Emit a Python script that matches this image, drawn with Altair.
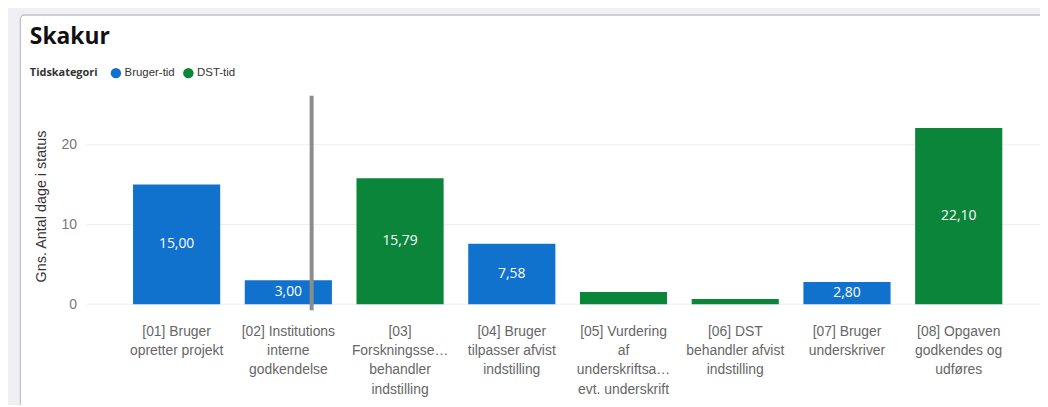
import altair as alt
import pandas as pd

# ---- data ----
categories = [
    "[01] Bruger|opretter projekt",
    "[02] Institutions|interne|godkendelse",
    "[03]|Forskningsse…|behandler|indstilling",
    "[04] Bruger|tilpasser afvist|indstilling",
    "[05] Vurdering|af|underskriftsa…|evt. underskrift",
    "[06] DST|behandler afvist|indstilling",
    "[07] Bruger|underskriver",
    "[08] Opgaven|godkendes og|udføres",
]
values = [15.00, 3.00, 15.79, 7.58, 1.53, 0.66, 2.80, 22.10]
kinds = ["Bruger-tid", "Bruger-tid", "DST-tid", "Bruger-tid",
         "DST-tid", "DST-tid", "Bruger-tid", "DST-tid"]
show_label = [True, True, True, True, False, False, True, True]
legend_names = ["Bruger-tid", "DST-tid"]
legend_colors = ["#1172cd", "#0b8539"]
y_ticks = [0, 10, 20]

df = pd.DataFrame({
    "kategori": categories,
    "vaerdi": values,
    "type": kinds,
    "label": [f"{v:.2f}".replace(".", ",") if s else "" for v, s in zip(values, show_label)],
})
grid_df = pd.DataFrame({"t": y_ticks})

y_scale = alt.Scale(domain=[0, 26], nice=False)

# white report card behind the visual
card = alt.Chart(pd.DataFrame({"k": [0]})).mark_rect(
    fill="white", stroke="#c2c2c2", strokeWidth=1.3, cornerRadius=4
).encode(
    x=alt.value(-66.5), x2=alt.value(1100),
    y=alt.value(-82.5), y2=alt.value(500),
)

grid = alt.Chart(grid_df).mark_rule(color="#eeeeee", strokeWidth=1).encode(
    y=alt.Y("t:Q", scale=y_scale)
)

x_enc = alt.X(
    "kategori:N",
    sort=categories,
    title=None,
    scale=alt.Scale(paddingInner=0.22, paddingOuter=0, range=[47, 923]),
    axis=alt.Axis(
        labelExpr="split(datum.label, '|')",
        labelAngle=0,
        labelAlign="center",
        labelBaseline="top",
        labelFont="Liberation Sans",
        labelFontSize=14,
        labelColor="#666666",
        labelLineHeight=19.5,
        labelLimit=200,
        labelPadding=20,
        ticks=False,
        domain=False,
        grid=False,
        zindex=1,
    ),
)

bars = alt.Chart(df).mark_bar().encode(
    x=x_enc,
    y=alt.Y(
        "vaerdi:Q",
        title="Gns. Antal dage i status",
        scale=y_scale,
        axis=alt.Axis(
            values=y_ticks,
            labelFont="Liberation Sans",
            labelFontSize=14,
            labelColor="#777777",
            labelPadding=10,
            ticks=False,
            domain=False,
            grid=False,
            zindex=1,
            titleFont="Liberation Sans",
            titleFontSize=14.5,
            titleFontWeight="normal",
            titleColor="#333333",
            titlePadding=13,
            titleY=110,
        ),
    ),
    color=alt.Color(
        "type:N",
        scale=alt.Scale(domain=legend_names, range=legend_colors),
        legend=alt.Legend(
            title="Tidskategori",
            orient="none",
            legendX=-57,
            legendY=-30,
            direction="horizontal",
            titleOrient="left",
            titleFont="Open Sans",
            titleFontSize=11,
            titleFontWeight="bold",
            titleColor="#333333",
            titlePadding=12,
            symbolType="circle",
            symbolSize=110,
            symbolStrokeWidth=0,
            labelFont="Liberation Sans",
            labelFontSize=11.5,
            labelColor="#333333",
            labelOffset=3,
            columnPadding=8,
        ),
    ),
)

text = alt.Chart(df).mark_text(
    color="white", font="Open Sans", fontSize=14, baseline="middle"
).encode(
    x=alt.X("kategori:N", sort=categories),
    y=alt.Y("mid:Q", scale=y_scale),
    text="label:N",
).transform_calculate(mid="datum.vaerdi / 2")

cursor = alt.Chart(pd.DataFrame({"k": [0]})).mark_rule(
    color="#8c8c8c", strokeWidth=4
).encode(x=alt.value(227), y=alt.value(-1), y2=alt.value(215))

chart = alt.layer(card, grid, bars, text, cursor).properties(
    width=961,
    height=209,
    title=alt.Title(
        "Skakur",
        anchor="start",
        frame="group",
        dx=-57,
        dy=31,
        baseline="alphabetic",
        font="Open Sans",
        fontSize=23,
        fontWeight="bold",
        color="#111111",
        offset=-22,
    ),
    autosize=alt.AutoSizeParams(type="none"),
    padding={"left": 79, "top": 88, "right": 0, "bottom": 100},
).configure_view(stroke=None).configure(background="#eff0f3")

chart.save("out.html", embed_options={"renderer": "svg", "actions": False})
